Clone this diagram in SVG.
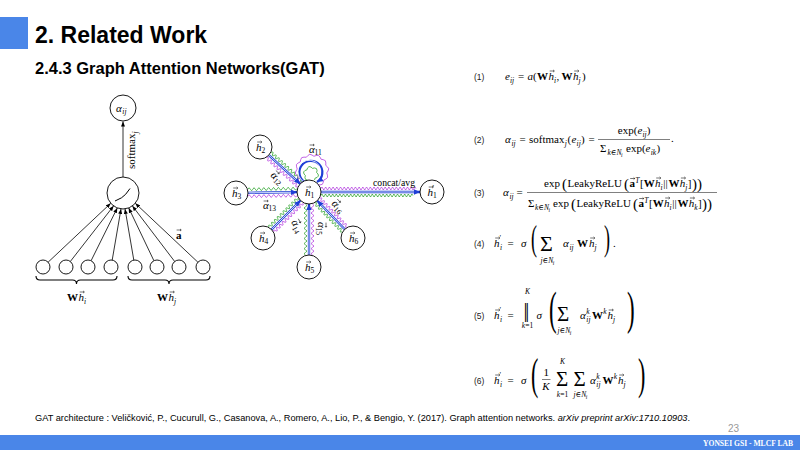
<svg xmlns="http://www.w3.org/2000/svg" xmlns:xlink="http://www.w3.org/1999/xlink" width="800" height="450" viewBox="0 0 800 450">
<style>
.m{font-family:"Liberation Serif","DejaVu Serif",serif;font-size:11px;fill:#000}
.i{font-style:italic}
.b{font-weight:bold}
.s{font-size:7.5px}
.ss{font-size:5.5px}
.lab{font-family:"Liberation Sans",Arial,sans-serif;font-size:8.5px;fill:#222}
.nd{fill:#fff;stroke:#000;stroke-width:0.9}
.ar{stroke:#000;stroke-width:0.8;fill:none}
.gw{fill:none;stroke:#2ea52e;stroke-width:0.8}
.pw{fill:none;stroke:#b43ee0;stroke-width:0.8}
.bl{stroke:#1f3fd6;stroke-width:2.3;fill:none}
.bw{stroke:#fff;stroke-width:0.8;fill:none}
.big{font-family:"Liberation Serif","DejaVu Serif",serif;fill:#000}
</style>
<defs>
<marker id="ka" markerUnits="userSpaceOnUse" markerWidth="6" markerHeight="4" refX="5" refY="2" orient="auto"><path d="M0,0 L5,2 L0,4 z" fill="#000"/></marker>
<marker id="ba" markerUnits="userSpaceOnUse" markerWidth="7" markerHeight="6" refX="6" refY="3" orient="auto"><path d="M0,0.3 L6,3 L0,5.7 z" fill="#1f3fd6"/></marker>
<path id="va" d="M0,0 H4.6 M3.4,-1.1 L4.6,0 L3.4,1.1" fill="none" stroke="#000" stroke-width="0.55"/>
<path id="wv40" vector-effect="non-scaling-stroke" d="M0,0q1,-3 2,0t2,0t2,0t2,0t2,0t2,0t2,0t2,0t2,0t2,0t2,0t2,0t2,0t2,0t2,0t2,0t2,0t2,0t2,0t2,0"/>
<path id="wv100" vector-effect="non-scaling-stroke" d="M0,0q1,-3 2,0t2,0t2,0t2,0t2,0t2,0t2,0t2,0t2,0t2,0t2,0t2,0t2,0t2,0t2,0t2,0t2,0t2,0t2,0t2,0t2,0t2,0t2,0t2,0t2,0t2,0t2,0t2,0t2,0t2,0t2,0t2,0t2,0t2,0t2,0t2,0t2,0t2,0t2,0t2,0t2,0t2,0t2,0t2,0t2,0t2,0t2,0t2,0t2,0t2,0t2,0"/>
</defs>

<!-- header -->
<g id="header">
<rect x="0" y="17" width="28" height="32" fill="#4a86e8"/>
<text x="35" y="43" font-family="Liberation Sans,Arial,sans-serif" font-size="23" font-weight="bold" fill="#000">2. Related Work</text>
<text x="35" y="74" font-family="Liberation Sans,Arial,sans-serif" font-size="16.5" font-weight="bold" fill="#000">2.4.3 Graph Attention Networks(GAT)</text>
</g>

<!-- left diagram -->
<g id="left-connectors">
<line class="ar" x1="123" y1="177" x2="123" y2="121.5" marker-end="url(#ka)"/>
<line class="ar" x1="48.1" y1="262.2" x2="110.7" y2="203.3" marker-end="url(#ka)"/>
<line class="ar" x1="70.3" y1="261.5" x2="113.6" y2="205.9" marker-end="url(#ka)"/>
<line class="ar" x1="91.1" y1="260.7" x2="117.3" y2="207.9" marker-end="url(#ka)"/>
<line class="ar" x1="112.2" y1="260.1" x2="121" y2="208.9" marker-end="url(#ka)"/>
<line class="ar" x1="133.8" y1="260.1" x2="125" y2="208.9" marker-end="url(#ka)"/>
<line class="ar" x1="153.9" y1="260.7" x2="128.7" y2="207.9" marker-end="url(#ka)"/>
<line class="ar" x1="174.7" y1="261.5" x2="132.4" y2="205.9" marker-end="url(#ka)"/>
<line class="ar" x1="197.9" y1="262.2" x2="135.3" y2="203.3" marker-end="url(#ka)"/>
<text class="m" transform="translate(135,169) rotate(-90)">softmax<tspan class="i s" dy="2.5">j</tspan></text>
<text class="m b" x="176" y="239">a</text><use href="#va" x="176.6" y="230"/>
</g>
<g id="node-alpha">
<circle class="nd" cx="123" cy="108" r="13"/>
<text class="m i" x="116" y="111.5">α</text><text class="m i s" x="122.3" y="114">ij</text>
</g>
<g id="node-attn">
<circle class="nd" cx="123" cy="193" r="16"/>
<path d="M115,201 L121.5,197.8 Q125.5,195.5 130,188.5" fill="none" stroke="#000" stroke-width="1"/>
</g>
<g id="node-inputs">
<circle class="nd" cx="43" cy="267" r="7"/>
<circle class="nd" cx="66" cy="267" r="7"/>
<circle class="nd" cx="88" cy="267" r="7"/>
<circle class="nd" cx="111" cy="267" r="7"/>
<circle class="nd" cx="135" cy="267" r="7"/>
<circle class="nd" cx="157" cy="267" r="7"/>
<circle class="nd" cx="179" cy="267" r="7"/>
<circle class="nd" cx="203" cy="267" r="7"/>
<path d="M36,276 Q36,280 40,280 L72.5,280 Q76.5,280 76.5,284 Q76.5,280 80.5,280 L113,280 Q117,280 117,276" fill="none" stroke="#000" stroke-width="1.1"/>
<path d="M128,276 Q128,280 132,280 L165,280 Q169,280 169,284 Q169,280 173,280 L206,280 Q210,280 210,276" fill="none" stroke="#000" stroke-width="1.1"/>
<text class="m b" x="67" y="301">W</text><text class="m i" x="78.5" y="301">h</text><use href="#va" x="79.7" y="292"/><text class="m i s" x="84" y="303.5">i</text>
<text class="m b" x="157" y="301">W</text><text class="m i" x="168.5" y="301">h</text><use href="#va" x="169.7" y="292"/><text class="m i s" x="174" y="303.5">j</text>
</g>

<!-- middle diagram connectors -->
<g id="gat-connectors">
<use href="#wv40" class="gw" transform="translate(268.8,155.1) rotate(42.6) translate(0,-3.5) scale(1.06,1)"/>
<use href="#wv40" class="pw" transform="translate(268.8,155.1) rotate(42.6) translate(0,3.5) scale(1.06,1)"/>
<use href="#wv40" class="gw" transform="translate(248,192.8) rotate(-0.8) translate(0,-3.5) scale(1.22,1)"/>
<use href="#wv40" class="pw" transform="translate(248,192.8) rotate(-0.8) translate(0,3.5) scale(1.22,1)"/>
<use href="#wv40" class="gw" transform="translate(271.5,229.5) rotate(-45) translate(0,-3.5) scale(1.02,1)"/>
<use href="#wv40" class="pw" transform="translate(271.5,229.5) rotate(-45) translate(0,3.5) scale(1.02,1)"/>
<use href="#wv40" class="gw" transform="translate(309,255) rotate(-90) translate(0,-3.5) scale(1.27,1)"/>
<use href="#wv40" class="pw" transform="translate(309,255) rotate(-90) translate(0,3.5) scale(1.27,1)"/>
<use href="#wv40" class="gw" transform="translate(344.7,229.3) rotate(-133.7) translate(0,-3.5) scale(0.99,1)"/>
<use href="#wv40" class="pw" transform="translate(344.7,229.3) rotate(-133.7) translate(0,3.5) scale(0.99,1)"/>
<use href="#wv100" class="gw" transform="translate(321,192) translate(0,3.5) scale(0.9,1)"/>
<use href="#wv100" class="pw" transform="translate(321,192) translate(0,-3.5) scale(0.93,1)"/>
<path class="pw" d="M307.86,186.46 A3,3 0 0 1 304,184.86 A3,3 0 0 0 300.69,182.31 A3,3 0 0 1 298.14,179 A3,3 0 0 0 296.55,175.14 A3,3 0 0 1 296,171 A3,3 0 0 0 296.55,166.86 A3,3 0 0 1 298.14,163 A3,3 0 0 0 300.69,159.69 A3,3 0 0 1 304,157.14 A3,3 0 0 0 307.86,155.54 A3,3 0 0 1 312,155 A3,3 0 0 0 316.14,155.54 A3,3 0 0 1 320,157.14 A3,3 0 0 0 323.31,159.69 A3,3 0 0 1 325.86,163 A3,3 0 0 0 327.45,166.86 A3,3 0 0 1 328,171 A3,3 0 0 0 327.45,175.14 A3,3 0 0 1 325.86,179 A3,3 0 0 0 323.31,182.31 A3,3 0 0 1 320,184.86 A3,3 0 0 0 316.14,186.46"/>
<path class="gw" d="M307.5,180.06 A2.5,2.5 0 0 1 304.94,177.5 A2.5,2.5 0 0 0 304,174 A2.5,2.5 0 0 1 304.94,170.5 A2.5,2.5 0 0 0 307.5,167.94 A2.5,2.5 0 0 1 311,167 A2.5,2.5 0 0 0 314.5,167.94 A2.5,2.5 0 0 1 317.06,170.5 A2.5,2.5 0 0 0 318,174 A2.5,2.5 0 0 1 317.06,177.5 A2.5,2.5 0 0 0 314.5,180.06"/>
<path class="bl" d="M305.5,182.5 A11.5,11.5 0 1 1 317,182" marker-end="url(#ba)"/>
<path class="bw" d="M305.5,182.5 A11.5,11.5 0 1 1 318.2,179"/>
<line class="bl" x1="268.8" y1="155.1" x2="300.2" y2="183.9" marker-end="url(#ba)"/>
<line class="bw" x1="268.8" y1="155.1" x2="295.8" y2="179.8"/>
<line class="bl" x1="248" y1="192.8" x2="297" y2="192.2" marker-end="url(#ba)"/>
<line class="bw" x1="248" y1="192.8" x2="291" y2="192.3"/>
<line class="bl" x1="271.5" y1="229.5" x2="300.5" y2="200.5" marker-end="url(#ba)"/>
<line class="bw" x1="271.5" y1="229.5" x2="296.3" y2="204.7"/>
<line class="bl" x1="309" y1="255" x2="309" y2="204" marker-end="url(#ba)"/>
<line class="bw" x1="309" y1="255" x2="309" y2="210"/>
<line class="bl" x1="344.7" y1="229.3" x2="317.3" y2="200.7" marker-end="url(#ba)"/>
<line class="bw" x1="344.7" y1="229.3" x2="321.4" y2="205"/>
<line class="bl" x1="321" y1="192" x2="420" y2="192" marker-end="url(#ba)"/>
<line class="bw" x1="321" y1="192" x2="414" y2="192"/>
<text class="m" x="373" y="185.5" font-size="10" textLength="42" lengthAdjust="spacingAndGlyphs">concat/avg</text>
<text class="m i" x="309" y="153" font-size="10">α</text><use href="#va" x="309.6" y="145"/><text class="m s" x="314.6" y="155">11</text>
<g transform="translate(270,176) rotate(42.6)"><text class="m i" x="0" y="0" font-size="10">α</text><use href="#va" x="0.6" y="-8"/><text class="m s" x="5.6" y="2">12</text></g>
<text class="m i" x="263" y="209" font-size="10">α</text><use href="#va" x="263.6" y="201"/><text class="m s" x="268.6" y="211">13</text>
<g transform="translate(291,222) rotate(62)"><text class="m i" x="0" y="0" font-size="10">α</text><use href="#va" x="0.6" y="-8"/><text class="m s" x="5.6" y="2">14</text></g>
<g transform="translate(318,222) rotate(90)"><text class="m i" x="0" y="0" font-size="10">α</text><use href="#va" x="0.6" y="-8"/><text class="m s" x="5.6" y="2">15</text></g>
<g transform="translate(331,204) rotate(47)"><text class="m i" x="0" y="0" font-size="10">α</text><use href="#va" x="0.6" y="-8"/><text class="m s" x="5.6" y="2">16</text></g>
</g>
<g id="n-h1"><circle class="nd" cx="309" cy="192" r="12"/><text class="m i" x="305" y="196">h</text><use href="#va" x="306.2" y="187"/><text class="m s" x="310.4" y="198">1</text></g>
<g id="n-h2"><circle class="nd" cx="260" cy="147" r="12"/><text class="m i" x="256" y="151">h</text><use href="#va" x="257.2" y="142"/><text class="m s" x="261.4" y="153">2</text></g>
<g id="n-h3"><circle class="nd" cx="236" cy="193" r="12"/><text class="m i" x="232" y="197">h</text><use href="#va" x="233.2" y="188"/><text class="m s" x="237.4" y="199">3</text></g>
<g id="n-h4"><circle class="nd" cx="263" cy="238" r="12"/><text class="m i" x="259" y="242">h</text><use href="#va" x="260.2" y="233"/><text class="m s" x="264.4" y="244">4</text></g>
<g id="n-h5"><circle class="nd" cx="309" cy="267" r="12"/><text class="m i" x="305" y="271">h</text><use href="#va" x="306.2" y="262"/><text class="m s" x="310.4" y="273">5</text></g>
<g id="n-h6"><circle class="nd" cx="353" cy="238" r="12"/><text class="m i" x="349" y="242">h</text><use href="#va" x="350.2" y="233"/><text class="m s" x="354.4" y="244">6</text></g>
<g id="n-h1p"><circle class="nd" cx="432" cy="192" r="12"/><text class="m i" x="427.5" y="196">h</text><use href="#va" x="428.7" y="187"/><text class="m s" x="432.6" y="191">′</text><text class="m s" x="433" y="198">1</text></g>

<!-- equations -->
<g id="eq1">
<text class="lab" x="474" y="80">(1)</text>
<text class="m i" x="505" y="80">e</text><text class="m i s" x="510" y="82.5">ij</text>
<text class="m" x="518" y="80">=</text>
<text class="m i" x="527.5" y="80">a</text><text class="m" x="533" y="80">(</text>
<text class="m b" x="537" y="80">W</text><text class="m i" x="548.5" y="80">h</text><use href="#va" x="549.7" y="71"/><text class="m i s" x="554" y="82.5">i</text>
<text class="m" x="556.5" y="80">,</text>
<text class="m b" x="561.5" y="80">W</text><text class="m i" x="573" y="80">h</text><use href="#va" x="574.2" y="71"/><text class="m i s" x="578.5" y="82.5">j</text>
<text class="m" x="582" y="80">)</text>
</g>
<g id="eq2">
<text class="lab" x="474" y="143">(2)</text>
<text class="m i" x="505" y="143">α</text><text class="m i s" x="511.5" y="145.5">ij</text>
<text class="m" x="519.5" y="143">=</text>
<text class="m" x="529" y="143">softmax</text><text class="m i s" x="564.8" y="145.5">j</text>
<text class="m" x="567.5" y="143">(</text><text class="m i" x="571.5" y="143">e</text><text class="m i s" x="576.6" y="145.5">ij</text><text class="m" x="581" y="143">)</text>
<text class="m" x="588.5" y="143">=</text>
<line x1="598" y1="139.5" x2="670" y2="139.5" stroke="#000" stroke-width="0.5"/>
<text class="m" x="617.8" y="134">exp(</text><text class="m i" x="637.4" y="134">e</text><text class="m i s" x="642.5" y="136.5">ij</text><text class="m" x="646.8" y="134">)</text>
<text class="m" x="600" y="152">Σ</text><text class="m s" x="607.5" y="155"><tspan class="i">k</tspan>∈<tspan class="i">N</tspan></text><text class="m i ss" x="621" y="156.5">i</text>
<text class="m" x="626" y="152">exp(</text><text class="m i" x="645.6" y="152">e</text><text class="m i s" x="650.7" y="154.5">ik</text><text class="m" x="656.5" y="152">)</text>
<text class="m" x="671" y="142">.</text>
</g>
<g id="eq3">
<text class="lab" x="474" y="196">(3)</text>
<text class="m i" x="503" y="196">α</text><text class="m i s" x="509.5" y="198.5">ij</text>
<text class="m" x="516.5" y="196">=</text>
<line x1="527" y1="192.5" x2="717" y2="192.5" stroke="#000" stroke-width="0.5"/>
<text class="m" x="544" y="187">exp</text>
<text class="big" font-size="15" x="562" y="188.5">(</text>
<text class="m" x="567.5" y="187">LeakyReLU</text>
<text class="big" font-size="15" x="624" y="188.5">(</text>
<text class="m b" x="629.5" y="187">a</text><use href="#va" x="630.2" y="178.5"/><text class="m i s" x="635.3" y="182.5">T</text>
<text class="m" x="640" y="187">[</text><text class="m b" x="643.7" y="187">W</text><text class="m i" x="655" y="187">h</text><use href="#va" x="656.2" y="178"/><text class="m i s" x="660.5" y="189.5">i</text>
<text class="m" x="663.3" y="187">||</text>
<text class="m b" x="668.4" y="187">W</text><text class="m i" x="679.7" y="187">h</text><use href="#va" x="680.9" y="178"/><text class="m i s" x="685.2" y="189.5">j</text>
<text class="m" x="687.8" y="187">]</text>
<text class="big" font-size="15" x="692" y="188.5">)</text><text class="big" font-size="15" x="697" y="188.5">)</text>
<text class="m" x="528" y="207">Σ</text><text class="m s" x="535" y="210"><tspan class="i">k</tspan>∈<tspan class="i">N</tspan></text><text class="m i ss" x="548.5" y="211.5">i</text>
<text class="m" x="553" y="207">exp</text>
<text class="big" font-size="15" x="571" y="208.5">(</text>
<text class="m" x="576.5" y="207">LeakyReLU</text>
<text class="big" font-size="15" x="633" y="208.5">(</text>
<text class="m b" x="638.5" y="207">a</text><use href="#va" x="639.2" y="198.5"/><text class="m i s" x="644.3" y="202.5">T</text>
<text class="m" x="649" y="207">[</text><text class="m b" x="652.7" y="207">W</text><text class="m i" x="664" y="207">h</text><use href="#va" x="665.2" y="198"/><text class="m i s" x="669.5" y="209.5">i</text>
<text class="m" x="672.3" y="207">||</text>
<text class="m b" x="677.4" y="207">W</text><text class="m i" x="688.7" y="207">h</text><use href="#va" x="689.9" y="198"/><text class="m i s" x="694.2" y="209.5">k</text>
<text class="m" x="698" y="207">]</text>
<text class="big" font-size="15" x="702" y="208.5">)</text><text class="big" font-size="15" x="707" y="208.5">)</text>
</g>
<g id="eq4">
<text class="lab" x="474" y="247">(4)</text>
<text class="m i" x="494" y="247">h</text><use href="#va" x="495.2" y="238"/><text class="m s" x="499.6" y="241">′</text><text class="m i s" x="500" y="250">i</text>
<text class="m" x="507.5" y="247">=</text>
<text class="m i" x="521" y="247">σ</text>
<text class="big" font-size="36" transform="translate(531,249.5) scale(0.5,1)">(</text>
<text class="big" font-size="22" x="540" y="251">Σ</text>
<text class="m s" x="540.5" y="263"><tspan class="i">j</tspan>∈<tspan class="i">N</tspan></text><text class="m i ss" x="552.8" y="264.5">i</text>
<text class="m i" x="563" y="247">α</text><text class="m i s" x="569.5" y="249.5">ij</text>
<text class="m b" x="577" y="247">W</text><text class="m i" x="589" y="247">h</text><use href="#va" x="590.2" y="238"/><text class="m i s" x="594.5" y="249.5">j</text>
<text class="big" font-size="36" transform="translate(604,249.5) scale(0.5,1)">)</text>
<text class="m" x="613" y="247">.</text>
</g>
<g id="eq5">
<text class="lab" x="474" y="319">(5)</text>
<text class="m i" x="494" y="319">h</text><use href="#va" x="495.2" y="310"/><text class="m s" x="499.6" y="313">′</text><text class="m i s" x="500" y="322">i</text>
<text class="m" x="507.5" y="319">=</text>
<text class="big" font-size="20" x="523.5" y="316.5" letter-spacing="-2.2">||</text>
<text class="m i s" x="527.5" y="294" text-anchor="middle">K</text>
<text class="m s" x="527.5" y="328" text-anchor="middle"><tspan class="i">k</tspan>=1</text>
<text class="m i" x="536.5" y="319">σ</text>
<text class="big" font-size="46" transform="translate(549,324) scale(0.5,1)">(</text>
<text class="big" font-size="21" x="557" y="320.5">Σ</text>
<text class="m s" x="557.5" y="333"><tspan class="i">j</tspan>∈<tspan class="i">N</tspan></text><text class="m i ss" x="569.8" y="334.5">i</text>
<text class="m i" x="580" y="319">α</text><text class="m i s" x="586.3" y="313.5">k</text><text class="m i s" x="586.3" y="322">ij</text>
<text class="m b" x="592" y="319">W</text><text class="m i s" x="603.3" y="313.5">k</text>
<text class="m i" x="607.5" y="319">h</text><use href="#va" x="608.7" y="310"/><text class="m i s" x="613" y="322">j</text>
<text class="big" font-size="46" transform="translate(627,324) scale(0.5,1)">)</text>
</g>
<g id="eq6">
<text class="lab" x="474" y="384">(6)</text>
<text class="m i" x="494" y="384">h</text><use href="#va" x="495.2" y="375"/><text class="m s" x="499.6" y="378">′</text><text class="m i s" x="500" y="387">i</text>
<text class="m" x="507.5" y="384">=</text>
<text class="m i" x="521" y="384">σ</text>
<text class="big" font-size="44" transform="translate(531,388.5) scale(0.5,1)">(</text>
<text class="m" x="543.5" y="376" font-size="10">1</text>
<line x1="542" y1="379.5" x2="550.5" y2="379.5" stroke="#000" stroke-width="0.5"/>
<text class="m i" x="542.3" y="390" font-size="10">K</text>
<text class="m i s" x="562.5" y="364" text-anchor="middle">K</text>
<text class="big" font-size="21" x="556" y="386">Σ</text>
<text class="m s" x="562.5" y="397" text-anchor="middle"><tspan class="i">k</tspan>=1</text>
<text class="big" font-size="21" x="573.5" y="386">Σ</text>
<text class="m s" x="573.5" y="397"><tspan class="i">j</tspan>∈<tspan class="i">N</tspan></text><text class="m i ss" x="585.8" y="398.5">i</text>
<text class="m i" x="590" y="384">α</text><text class="m i s" x="596.3" y="378.5">k</text><text class="m i s" x="596.3" y="387">ij</text>
<text class="m b" x="602.5" y="384">W</text><text class="m i s" x="613.8" y="378.5">k</text>
<text class="m i" x="618" y="384">h</text><use href="#va" x="619.2" y="375"/><text class="m i s" x="623.5" y="387">j</text>
<text class="big" font-size="44" transform="translate(638,388.5) scale(0.5,1)">)</text>
</g>

<!-- footer -->
<g id="footer">
<text x="35" y="421" font-family="Liberation Sans,Arial,sans-serif" font-size="8.5" fill="#000" textLength="655" lengthAdjust="spacingAndGlyphs">GAT architecture : Veličković, P., Cucurull, G., Casanova, A., Romero, A., Lio, P., &amp; Bengio, Y. (2017). Graph attention networks. <tspan font-style="italic">arXiv preprint arXiv:1710.10903</tspan>.</text>
<text x="728" y="432" font-family="Liberation Sans,Arial,sans-serif" font-size="10" fill="#999">23</text>
<rect x="0" y="435" width="800" height="15" fill="#4a86e8"/>
<text x="703" y="446" font-family="Liberation Serif,Times New Roman,serif" font-size="7.5" font-weight="bold" fill="#fff" textLength="90" lengthAdjust="spacingAndGlyphs">YONSEI GSI - MLCF LAB</text>
</g>
</svg>
